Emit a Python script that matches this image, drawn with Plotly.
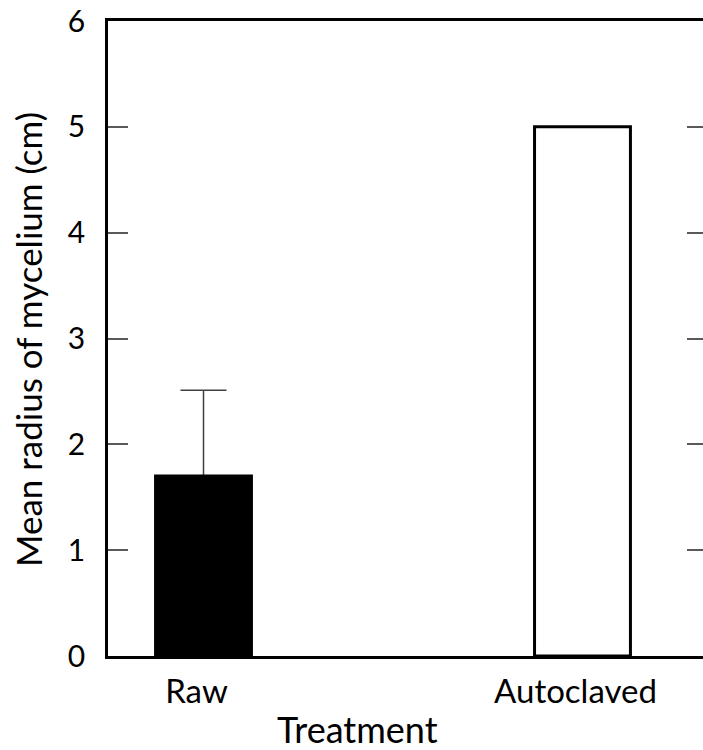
import plotly.graph_objects as go

categories = ["Raw", "Autoclaved"]
means = [1.70, 5.00]
errors_up = [0.81, 0.0]
y_ticks = [0, 1, 2, 3, 4, 5, 6]

FONT = "Lato"
BAR_W = 0.253

fig = go.Figure()
# error bar carrier (drawn first so the bar covers its lower cap)
fig.add_trace(go.Bar(
    x=[0], y=[means[0]], width=BAR_W,
    marker=dict(color="rgba(0,0,0,0)", line=dict(width=0)),
    error_y=dict(type="data", symmetric=False, array=[errors_up[0]], arrayminus=[0],
                 color="#404040", thickness=1.5, width=23),
    showlegend=False, hoverinfo="skip",
))
fig.add_trace(go.Bar(
    x=[0], y=[means[0]], width=BAR_W,
    marker=dict(color="black", line=dict(color="black", width=3)),
    showlegend=False,
))
fig.add_trace(go.Bar(
    x=[1], y=[means[1]], width=BAR_W,
    marker=dict(color="white", line=dict(color="black", width=3)),
    showlegend=False,
))
# phantom trace on right axis to display mirrored ticks
fig.add_trace(go.Scatter(x=[0], y=[0], yaxis="y2", mode="markers",
                         marker=dict(opacity=0), showlegend=False, hoverinfo="skip"))

fig.update_layout(
    width=703, height=750,
    margin=dict(l=108, r=0, t=21, b=94),
    plot_bgcolor="white", paper_bgcolor="white",
    barmode="overlay",
    font=dict(family=FONT, color="black"),
    xaxis=dict(
        range=[-0.252, 1.318],
        tickmode="array", tickvals=[0, 1], ticktext=categories,
        showline=True, linecolor="black", linewidth=2.5, mirror=True,
        ticks="", showgrid=False, zeroline=False,
        tickfont=dict(size=33, family=FONT, color="black"),
        ticklabelstandoff=5, ticklabelshift=-7,
    ),
    yaxis=dict(
        range=[0, 6], tickmode="array", tickvals=y_ticks,
        showline=True, linecolor="black", linewidth=2.5,
        ticks="inside", ticklen=20, tickwidth=1.5, tickcolor="#595959",
        showgrid=False, zeroline=False,
        tickfont=dict(size=30, family=FONT, color="black"),
        ticklabelstandoff=14,
    ),
    yaxis2=dict(
        range=[0, 6], tickmode="array", tickvals=y_ticks,
        overlaying="y", side="right", anchor="x",
        showline=False, ticks="inside", ticklen=16, tickwidth=1.5, tickcolor="#595959",
        showticklabels=False, showgrid=False, zeroline=False,
    ),
    annotations=[
        dict(text="Mean radius of mycelium (cm)", textangle=-90,
             xref="paper", yref="paper", x=-(108 - 28) / 595, y=(656 - 340) / 635,
             xanchor="center", yanchor="middle", showarrow=False,
             font=dict(size=35, family=FONT, color="black")),
        dict(text="Treatment", xref="paper", yref="paper",
             x=(357 - 108) / 595, y=-(729 - 656) / 635,
             xanchor="center", yanchor="middle", showarrow=False,
             font=dict(size=36, family=FONT, color="black")),
    ],
)

fig.write_html(
    "out.html",
    config={"displayModeBar": False},
    post_script="document.body.style.margin='0';document.body.style.overflow='hidden';",
)
